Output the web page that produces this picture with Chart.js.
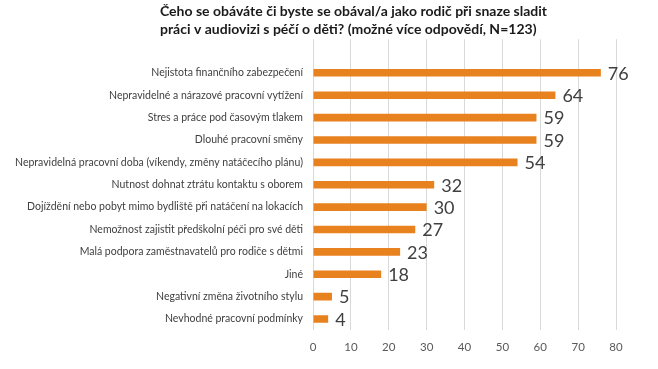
<!DOCTYPE html>
<html>
<head>
<meta charset="utf-8">
<script src="https://cdn.jsdelivr.net/npm/chart.js@4/dist/chart.umd.min.js"></script>
<style>
html,body{margin:0;padding:0;background:#fff;}
#wrap{width:658px;height:369px;position:relative;}
</style>
</head>
<body>
<div id="wrap"><canvas id="c"></canvas></div>
<script>
const titleLines = [
  "Čeho se obáváte či byste se obával/a jako rodič při snaze sladit",
  "práci v audiovizi s péčí o děti? (možné více odpovědí, N=123)"
];
// first entry is the blank row present in the original chart's category range
const categories = [
  "",
  "Nejistota finančního zabezpečení",
  "Nepravidelné a nárazové pracovní vytížení",
  "Stres a práce pod časovým tlakem",
  "Dlouhé pracovní směny",
  "Nepravidelná pracovní doba (víkendy, změny natáčecího plánu)",
  "Nutnost dohnat ztrátu kontaktu s oborem",
  "Dojíždění nebo pobyt mimo bydliště při natáčení na lokacích",
  "Nemožnost zajistit předškolní péči pro své děti",
  "Malá podpora zaměstnavatelů pro rodiče s dětmi",
  "Jiné",
  "Negativní změna životního stylu",
  "Nevhodné pracovní podmínky"
];
const values = [null, 76, 64, 59, 59, 54, 32, 30, 27, 23, 18, 5, 4];
const xTicks = [0, 10, 20, 30, 40, 50, 60, 70, 80];

const FONT = "Lato, 'Open Sans', sans-serif";

const valueLabels = {
  id: 'valueLabels',
  afterDatasetsDraw(chart) {
    const ctx = chart.ctx;
    const meta = chart.getDatasetMeta(0);
    ctx.save();
    ctx.font = "18px " + FONT;
    ctx.fillStyle = "#404040";
    ctx.textAlign = "left";
    ctx.textBaseline = "middle";
    meta.data.forEach((el, i) => {
      const v = chart.data.datasets[0].data[i];
      if (v === null || v === undefined) return;
      ctx.fillText(String(v), el.x + 7, el.y + 1);
    });
    ctx.restore();
  }
};

// the original title block is left-aligned, starting a little left of the plot centre
const titleOffset = {
  id: 'titleOffset',
  afterLayout(chart) {
    if (chart.titleBlock) chart.titleBlock.left = 160;
  }
};

new Chart(document.getElementById('c'), {
  type: 'bar',
  data: {
    labels: categories,
    datasets: [{
      data: values,
      backgroundColor: '#E8821E',
      borderWidth: 0,
      barPercentage: 0.34,
      categoryPercentage: 1.0
    }]
  },
  options: {
    indexAxis: 'y',
    responsive: true,
    maintainAspectRatio: false,
    animation: false,
    layout: { padding: { left: 0, right: 42, top: 0, bottom: 5 } },
    plugins: {
      legend: { display: false },
      tooltip: { enabled: false },
      title: {
        display: true,
        align: 'start',
        text: titleLines,
        color: '#1a1a1a',
        font: { family: FONT, size: 14, weight: 'bold', lineHeight: 1.33 },
        padding: { top: 2, bottom: 0 }
      }
    },
    scales: {
      x: {
        min: 0, max: 80,
        afterBuildTicks: (s) => { s.ticks = xTicks.map(v => ({ value: v })); },
        grid: { color: '#D9D9D9', lineWidth: 1, drawTicks: false },
        border: { display: false },
        ticks: { color: '#595959', font: { family: FONT, size: 11.5 }, padding: 10 }
      },
      y: {
        afterFit: (s) => { s.width = 313; },
        grid: { display: false, drawTicks: false },
        border: { display: false },
        ticks: { color: '#404040', font: { family: FONT, size: 10.5 }, padding: 10, autoSkip: false }
      }
    }
  },
  plugins: [valueLabels, titleOffset]
});
</script>
</body>
</html>
